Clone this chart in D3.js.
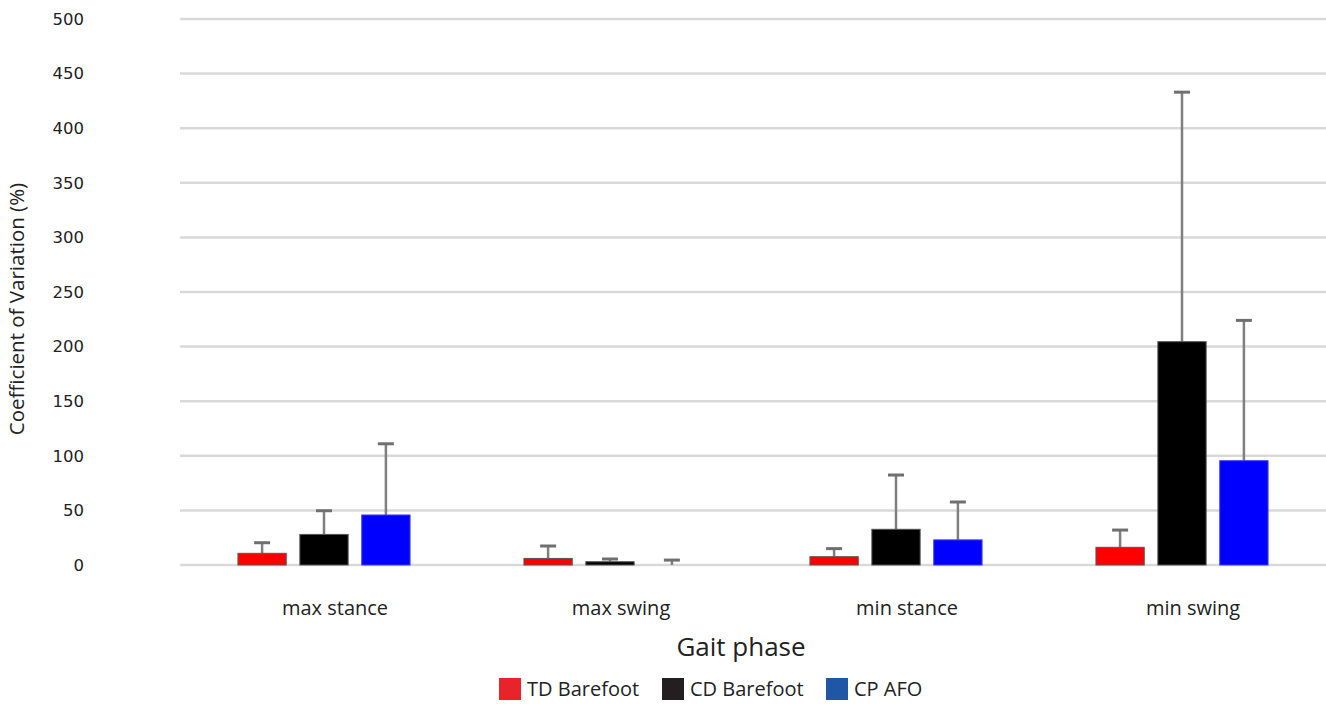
<!DOCTYPE html>
<html>
<head>
<meta charset="utf-8">
<script src="https://cdn.jsdelivr.net/npm/d3@7"></script>
<style>
  html, body { margin: 0; padding: 0; background: #fff; }
  svg { display: block; }
</style>
</head>
<body>
<svg id="chart" width="1326" height="704"></svg>
<script>
// Gait phases on the x axis
const phases = ["max stance", "max swing", "min stance", "min swing"];
// Groups shown for each phase
const groups = ["TD Barefoot", "CD Barefoot", "CP AFO"];
// Mean coefficient of variation (%) per group, one value per phase
const tdMean = [10.7, 6, 7.6, 16.2];
const cdMean = [28, 3, 32.7, 204.5];
const cpMean = [45.8, 0, 23, 95.5];
// Upper end of the error bar (mean + SD)
const tdUpper = [20.4, 17.4, 15, 32];
const cdUpper = [49.7, 5.5, 82.4, 433];
const cpUpper = [111, 4.5, 57.7, 224];
// Y axis ticks
const yTicks = [0, 50, 100, 150, 200, 250, 300, 350, 400, 450, 500];

const barColors = ["#ff0000", "#000000", "#0000ff"];
const legendColors = ["#e8242a", "#231f20", "#1f56a6"];

const means = [tdMean, cdMean, cpMean];
const uppers = [tdUpper, cdUpper, cpUpper];

const svg = d3.select("#chart");
const plot = { left: 181, right: 1325, top: 19, bottom: 565 };

const x = d3.scaleBand().domain(phases).range([plot.left, plot.right]);
const inner = d3.scaleBand().domain(groups).range([0, x.bandwidth()]).paddingInner(0.22).paddingOuter(0.92);
const y = d3.scaleLinear().domain([0, 500]).range([plot.bottom, plot.top]);

// Horizontal gridlines
svg.append("g")
  .selectAll("line")
  .data(yTicks)
  .join("line")
  .attr("x1", plot.left - 1).attr("x2", 1326)
  .attr("y1", d => y(d)).attr("y2", d => y(d))
  .attr("stroke", "#d9d9d9").attr("stroke-width", 2.5);

// Y axis tick labels
const yAxis = d3.axisLeft(y).tickValues(yTicks).tickSize(0).tickPadding(0);
const gy = svg.append("g").attr("transform", "translate(84,0)").call(yAxis);
gy.select(".domain").remove();
gy.selectAll("text")
  .attr("font-family", "DejaVu Sans, sans-serif")
  .attr("font-size", 16.5).attr("fill", "#222");

// Category labels along the bottom
const xAxis = d3.axisBottom(x).tickSize(0).tickPadding(0);
const gx = svg.append("g").attr("transform", `translate(11,${plot.bottom + 36})`).call(xAxis);
gx.select(".domain").remove();
gx.selectAll("text")
  .attr("font-family", "Open Sans, sans-serif")
  .attr("font-size", 20).attr("fill", "#222");

// Bars and error bars
const rows = [];
phases.forEach((p, i) => {
  groups.forEach((g, j) => {
    rows.push({ phase: p, group: g, j, mean: means[j][i], upper: uppers[j][i] });
  });
});

const gBars = svg.append("g");
gBars.selectAll("line.err")
  .data(rows)
  .join("line")
  .attr("class", "err")
  .attr("x1", d => x(d.phase) + inner(d.group) + inner.bandwidth() / 2)
  .attr("x2", d => x(d.phase) + inner(d.group) + inner.bandwidth() / 2)
  .attr("y1", d => y(d.mean))
  .attr("y2", d => y(d.upper))
  .attr("stroke", "#7f7f7f").attr("stroke-width", 2.5);

gBars.selectAll("line.cap")
  .data(rows)
  .join("line")
  .attr("class", "cap")
  .attr("x1", d => x(d.phase) + inner(d.group) + inner.bandwidth() / 2 - 8)
  .attr("x2", d => x(d.phase) + inner(d.group) + inner.bandwidth() / 2 + 8)
  .attr("y1", d => y(d.upper))
  .attr("y2", d => y(d.upper))
  .attr("stroke", "#6f6f6f").attr("stroke-width", 3);

// Zero-height bars are skipped so no outline shows on the baseline
gBars.selectAll("rect")
  .data(rows.filter(d => d.mean > 0))
  .join("rect")
  .attr("x", d => x(d.phase) + inner(d.group))
  .attr("y", d => y(d.mean))
  .attr("width", inner.bandwidth())
  .attr("height", d => y(0) - y(d.mean))
  .attr("fill", d => barColors[d.j])
  .attr("stroke", d => d.j === 2 ? "#3a3aff" : "#555")
  .attr("stroke-width", 1);

// Axis titles
svg.append("text")
  .attr("transform", `translate(24,${(plot.top + plot.bottom) / 2 + 17}) rotate(-90)`)
  .attr("text-anchor", "middle")
  .attr("font-family", "Open Sans, sans-serif")
  .attr("font-size", 20.5).attr("fill", "#222")
  .text("Coefficient of Variation (%)");

svg.append("text")
  .attr("x", 741).attr("y", 656)
  .attr("text-anchor", "middle")
  .attr("font-family", "Open Sans, sans-serif")
  .attr("font-size", 26).attr("fill", "#222")
  .text("Gait phase");

// Legend
const legendX = [499, 662, 826];
const legend = svg.append("g").selectAll("g")
  .data(groups)
  .join("g")
  .attr("transform", (d, i) => `translate(${legendX[i]},678)`);
legend.append("rect")
  .attr("width", 22).attr("height", 22)
  .attr("fill", (d, i) => legendColors[i]);
legend.append("text")
  .attr("x", 28).attr("y", 18)
  .attr("font-family", "Open Sans, sans-serif")
  .attr("font-size", 20).attr("fill", "#222")
  .text(d => d);
</script>
</body>
</html>
